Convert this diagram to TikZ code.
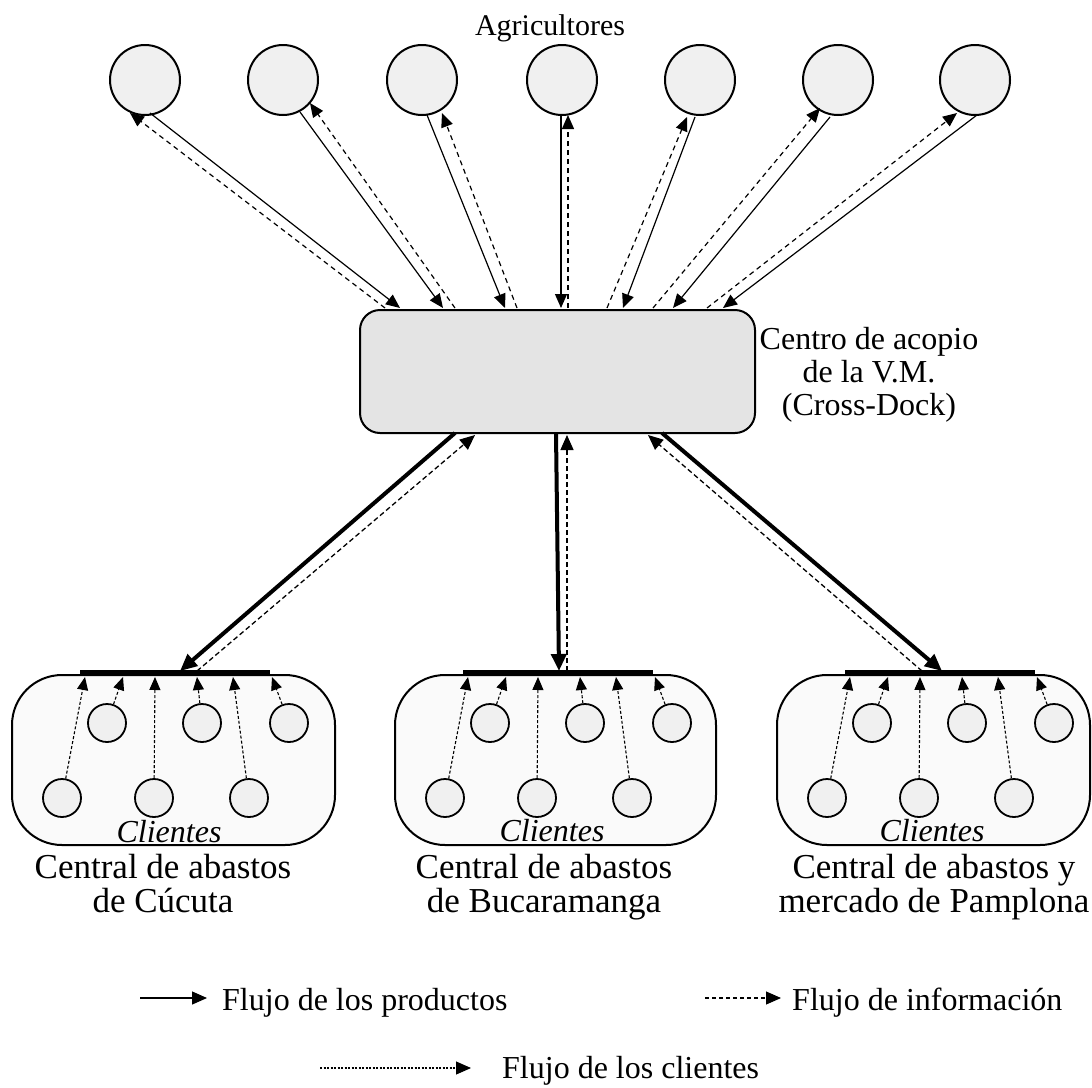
\documentclass[tikz,border=0pt]{standalone}
\usepackage{fontspec}
\setmainfont{Liberation Serif}
\usetikzlibrary{arrows.meta}
\definecolor{farmfill}{HTML}{F0F0F0}
\definecolor{hubfill}{HTML}{E4E4E4}
\definecolor{clusfill}{HTML}{FAFAFA}
\begin{document}
\begin{tikzpicture}[x=1pt,y=-1pt,
 farmer/.style={circle,draw,line width=2pt,fill=farmfill,minimum size=70pt,inner sep=0pt},
 client/.style={circle,draw,line width=1.8pt,fill=farmfill,minimum size=38pt,inner sep=0pt},
 hub/.style={rectangle,rounded corners=20pt,draw,line width=2pt,fill=hubfill,minimum width=395pt,minimum height=123pt,inner sep=0pt},
 cluster/.style={rectangle,rounded corners=50pt,draw,line width=2pt,fill=clusfill,minimum height=170pt,inner sep=0pt},
 prod/.style={line width=1.2pt,-{Triangle[length=14pt,width=12pt]}},
 info/.style={line width=1.2pt,dash pattern=on 5pt off 4pt,-{Triangle[length=14pt,width=12pt]}},
 prodthick/.style={line width=4pt,-{Triangle[length=17pt,width=15pt]}},
 infothick/.style={line width=1.3pt,dash pattern=on 5pt off 3pt,-{Triangle[length=15pt,width=13pt]}},
 cli/.style={line width=1.1pt,dash pattern=on 3pt off 2pt,-{Triangle[length=13pt,width=11pt]}},
 legcli/.style={line width=1.1pt,dash pattern=on 2pt off 1.5pt,-{Triangle[length=15pt,width=13pt]}},
 leginfo/.style={line width=1.1pt,dash pattern=on 4pt off 3pt,-{Triangle[length=15pt,width=13pt]}},
 legprod/.style={line width=1.3pt,-{Triangle[length=15pt,width=13pt]}},
 bar/.style={line width=6pt},
 txt/.style={font=\fontsize{32}{33}\selectfont,inner sep=0pt},
 lbl/.style={font=\fontsize{35}{34}\selectfont,inner sep=0pt,align=center},
]
\useasboundingbox (0,0) rectangle (1092,1087);

% farmers
\node[txt,anchor=base,font=\fontsize{30}{32}\selectfont] (agr) at (550,35) {Agricultores};
\foreach \i/\x in {1/145,2/283,3/422,4/562,5/700,6/838,7/975}
  \node[farmer] (f\i) at (\x,80) {};

% hub
\node[hub] (hub) at (557.5,371.5) {};
\node[txt,align=center,anchor=north,font=\fontsize{32}{33}\selectfont] (hublbl) at (869,327) {Centro de acopio\\de la V.M.\\(Cross-Dock)};

% top arrows: product (farmer -> hub) and information (hub -> farmer)
\foreach \i/\sx/\sy/\ex/\ey in {1/150/113/400/308, 2/300/112/443/308, 3/427/115/505/308, 4/561/115/561/308, 5/695/117/623/308, 6/830/117/673/308, 7/977/115/723/308}{
  \coordinate (ps\i) at (\sx,\sy);
  \coordinate (pe\i) at (\ex,\ey);
  \draw[prod] (ps\i) -- (pe\i);
}
\foreach \i/\sx/\sy/\ex/\ey in {1/385/308/130/113, 2/455/308/310/103, 3/517/308/442/113, 4/568/308/568/115, 5/607/308/687/117, 6/653/308/820/108, 7/707/308/957/113}{
  \coordinate (is\i) at (\sx,\sy);
  \coordinate (ie\i) at (\ex,\ey);
  \draw[info] (is\i) -- (ie\i);
}

% clusters
\node[cluster,minimum width=323pt] (c1) at (173.5,760) {};
\node[cluster,minimum width=321pt] (c2) at (555.5,760) {};
\node[cluster,minimum width=313pt] (c3) at (933.5,760) {};

\foreach \k/\L in {1/12,2/395,3/777}{
  \coordinate (bar\k l) at (\L+68,673);
  \coordinate (bar\k r) at (\L+258,673);
  \draw[bar] (bar\k l) -- (bar\k r);
  \node[client] (c\k-t1) at (\L+95,723) {};
  \node[client] (c\k-t2) at (\L+190,723) {};
  \node[client] (c\k-t3) at (\L+277,723) {};
  \node[client] (c\k-b1) at (\L+50,798) {};
  \node[client] (c\k-b2) at (\L+142,798) {};
  \node[client] (c\k-b3) at (\L+237,798) {};
  \coordinate (c\k-k1) at (\L+73,677);
  \coordinate (c\k-k2) at (\L+111,677);
  \coordinate (c\k-k3) at (\L+143,677);
  \coordinate (c\k-k4) at (\L+185,677);
  \coordinate (c\k-k5) at (\L+221,677);
  \coordinate (c\k-k6) at (\L+260,677);
  \draw[cli] (c\k-b1) -- (c\k-k1);
  \draw[cli] (c\k-t1) -- (c\k-k2);
  \draw[cli] (c\k-b2) -- (c\k-k3);
  \draw[cli] (c\k-t2) -- (c\k-k4);
  \draw[cli] (c\k-b3) -- (c\k-k5);
  \draw[cli] (c\k-t3) -- (c\k-k6);
}

\node[txt,anchor=base,font=\itshape\fontsize{32}{33}\selectfont] (cl1) at (169,842) {Clientes};
\node[txt,anchor=base,font=\itshape\fontsize{32}{33}\selectfont] (cl2) at (552,841) {Clientes};
\node[txt,anchor=base,font=\itshape\fontsize{32}{33}\selectfont] (cl3) at (932,841) {Clientes};

\node[lbl,anchor=north] (lab1) at (163,854) {Central de abastos\\de Cúcuta};
\node[lbl,anchor=north] (lab2) at (544,854) {Central de abastos\\de Bucaramanga};
\node[lbl,anchor=north] (lab3) at (934,854) {Central de abastos y\\mercado de Pamplona};

% hub <-> clusters
\coordinate (hs1) at (455,433); \coordinate (ht1) at (180,671);
\coordinate (hd1) at (197,671); \coordinate (hu1) at (475,435);
\coordinate (hs2) at (556,433); \coordinate (ht2) at (559,671);
\coordinate (hd2) at (567,671); \coordinate (hu2) at (567,435);
\coordinate (hs3) at (662,433); \coordinate (ht3) at (942,671);
\coordinate (hd3) at (922,671); \coordinate (hu3) at (648,435);
\foreach \k in {1,2,3}{
  \draw[prodthick] (hs\k) -- (ht\k);
  \draw[infothick] (hd\k) -- (hu\k);
}

% legend
\node[txt,anchor=base west] (lg1) at (222,1010) {Flujo de los productos};
\coordinate (lg1s) at (140,998); \coordinate (lg1e) at (207,998);
\draw[legprod] (lg1s) -- (lg1e);
\node[txt,anchor=base west] (lg2) at (792,1010) {Flujo de información};
\coordinate (lg2s) at (705,998); \coordinate (lg2e) at (781,998);
\draw[leginfo] (lg2s) -- (lg2e);
\node[txt,anchor=base west] (lg3) at (502,1078) {Flujo de los clientes};
\coordinate (lg3s) at (320,1068); \coordinate (lg3e) at (471,1068);
\draw[legcli] (lg3s) -- (lg3e);
\end{tikzpicture}
\end{document}
